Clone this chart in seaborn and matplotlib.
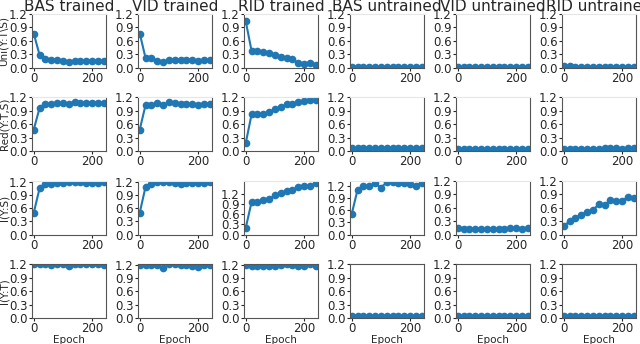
import numpy as np
import matplotlib
matplotlib.use('Agg')
import matplotlib.pyplot as plt
import seaborn as sns

sns.set_style('ticks')
plt.rcParams['font.family'] = ['DejaVu Sans']

# Data
epochs = [0, 20, 40, 60, 80, 100, 120, 140, 160, 180, 200, 220, 240]
col_titles = ['BAS trained', 'VID trained', 'RID trained',
              'BAS untrained', 'VID untrained', 'RID untrained']
row_labels = ['Uni(Y:T\\S)', 'Red(Y:T,S)', 'I(Y:S)', 'I(Y:T)']

uni_vals = [
    [0.76, 0.28, 0.19, 0.17, 0.16, 0.15, 0.13, 0.15, 0.15, 0.15, 0.15, 0.15, 0.14],
    [0.76, 0.21, 0.21, 0.15, 0.12, 0.17, 0.17, 0.18, 0.16, 0.17, 0.15, 0.17, 0.16],
    [1.03, 0.37, 0.38, 0.35, 0.33, 0.29, 0.24, 0.21, 0.19, 0.10, 0.09, 0.11, 0.05],
    [0.01, 0.01, 0.01, 0.01, 0.01, 0.01, 0.01, 0.01, 0.01, 0.01, 0.01, 0.01, 0.01],
    [0.02, 0.02, 0.02, 0.02, 0.02, 0.02, 0.02, 0.02, 0.02, 0.02, 0.02, 0.02, 0.02],
    [0.03, 0.04, 0.02, 0.02, 0.02, 0.02, 0.02, 0.02, 0.02, 0.02, 0.02, 0.02, 0.02],
]
red_vals = [
    [0.48, 0.96, 1.05, 1.05, 1.07, 1.07, 1.05, 1.10, 1.08, 1.08, 1.08, 1.08, 1.08],
    [0.48, 1.03, 1.03, 1.07, 1.02, 1.10, 1.07, 1.04, 1.04, 1.05, 1.02, 1.06, 1.06],
    [0.18, 0.82, 0.83, 0.83, 0.86, 0.94, 0.98, 1.04, 1.06, 1.09, 1.12, 1.13, 1.13],
    [0.06, 0.06, 0.06, 0.06, 0.06, 0.06, 0.06, 0.06, 0.06, 0.06, 0.06, 0.06, 0.06],
    [0.05, 0.05, 0.05, 0.05, 0.05, 0.05, 0.05, 0.05, 0.05, 0.05, 0.05, 0.05, 0.05],
    [0.04, 0.04, 0.05, 0.05, 0.05, 0.05, 0.05, 0.06, 0.06, 0.06, 0.05, 0.06, 0.06],
]
iys_vals = [
    [0.50, 1.06, 1.16, 1.17, 1.19, 1.19, 1.20, 1.20, 1.20, 1.19, 1.19, 1.19, 1.20],
    [0.50, 1.10, 1.15, 1.20, 1.20, 1.20, 1.19, 1.17, 1.19, 1.19, 1.19, 1.19, 1.20],
    [0.20, 0.96, 0.96, 1.02, 1.04, 1.16, 1.21, 1.28, 1.30, 1.40, 1.42, 1.42, 1.52],
    [0.51, 1.10, 1.19, 1.18, 1.25, 1.15, 1.28, 1.28, 1.25, 1.25, 1.24, 1.20, 1.27],
    [0.14, 0.12, 0.12, 0.12, 0.12, 0.12, 0.13, 0.13, 0.13, 0.14, 0.14, 0.13, 0.15],
    [0.18, 0.30, 0.37, 0.44, 0.51, 0.55, 0.67, 0.65, 0.77, 0.74, 0.75, 0.84, 0.81],
]
iyt_vals = [
    [1.20, 1.20, 1.20, 1.18, 1.20, 1.20, 1.16, 1.20, 1.20, 1.20, 1.20, 1.20, 1.19],
    [1.20, 1.19, 1.20, 1.19, 1.12, 1.21, 1.21, 1.19, 1.19, 1.18, 1.15, 1.19, 1.19],
    [1.19, 1.17, 1.18, 1.18, 1.17, 1.17, 1.19, 1.21, 1.20, 1.18, 1.18, 1.21, 1.17],
    [0.05, 0.05, 0.05, 0.05, 0.05, 0.05, 0.05, 0.05, 0.05, 0.05, 0.05, 0.05, 0.05],
    [0.05, 0.05, 0.05, 0.05, 0.05, 0.05, 0.05, 0.05, 0.05, 0.05, 0.05, 0.05, 0.05],
    [0.05, 0.05, 0.05, 0.05, 0.05, 0.05, 0.05, 0.05, 0.05, 0.05, 0.05, 0.05, 0.05],
]
all_rows = [uni_vals, red_vals, iys_vals, iyt_vals]

fig, axes = plt.subplots(4, 6, figsize=(6.4, 3.44), dpi=100)
fig.subplots_adjust(left=0.05, right=0.994, top=0.96, bottom=0.0756,
                    wspace=0.43, hspace=0.55)

for r, rows in enumerate(all_rows):
    for c, vals in enumerate(rows):
        ax = axes[r, c]
        sns.lineplot(x=epochs, y=vals, marker='o', ax=ax, color='#1f77b4',
                     markersize=5.5, markeredgewidth=0, linewidth=1.5)
        ax.set_xlim(-6, 248)
        top = max(1.2, max(vals) + 0.05 * (max(vals) - min(vals)))
        ax.set_ylim(0, top)
        ax.set_yticks([0.0, 0.3, 0.6, 0.9, 1.2])
        ax.set_xticks([0, 200])
        ax.tick_params(labelsize=8.5, length=2.5, width=0.8, pad=0.5)
        for s in ['left', 'right', 'bottom']:
            ax.spines[s].set_color('#555555')
        ax.spines['top'].set_color('#555555' if r == 3 else '#e6e6e6')
        if c == 0:
            ax.set_ylabel(row_labels[r], fontsize=7.5, labelpad=0)
        if r == 0:
            ax.set_title(col_titles[c], fontsize=11, pad=-1.5)
        if r == 3:
            ax.set_xlabel('Epoch', fontsize=7.5, labelpad=0)

plt.savefig('out.png', dpi=100)
